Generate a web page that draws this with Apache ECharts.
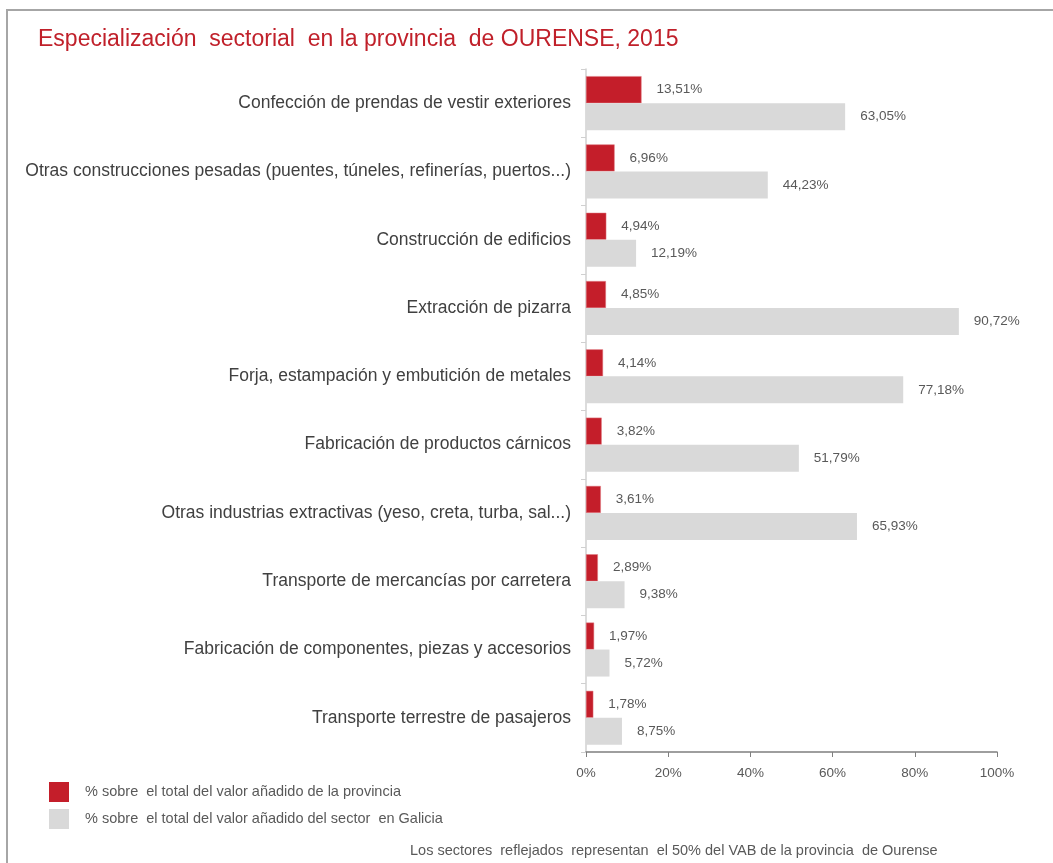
<!DOCTYPE html>
<html>
<head>
<meta charset="utf-8">
<script src="https://cdn.jsdelivr.net/npm/echarts@6/dist/echarts.min.js"></script>
<style>
  html, body { margin: 0; padding: 0; background: #fff; }
  #main { width: 1053px; height: 863px; }
</style>
</head>
<body>
<div id="main"></div>
<script>
const sectores = [
  'Confección de prendas de vestir exteriores',
  'Otras construcciones pesadas (puentes, túneles, refinerías, puertos...)',
  'Construcción de edificios',
  'Extracción de pizarra',
  'Forja, estampación y embutición de metales',
  'Fabricación de productos cárnicos',
  'Otras industrias extractivas (yeso, creta, turba, sal...)',
  'Transporte de mercancías por carretera',
  'Fabricación de componentes, piezas y accesorios',
  'Transporte terrestre de pasajeros'
]
const pctProvincia = [13.51, 6.96, 4.94, 4.85, 4.14, 3.82, 3.61, 2.89, 1.97, 1.78]
const pctGalicia = [63.05, 44.23, 12.19, 90.72, 77.18, 51.79, 65.93, 9.38, 5.72, 8.75]
const xTicks = [0, 20, 40, 60, 80, 100]

const fontFam = '"Liberation Sans", Arial, sans-serif'
const fmtPct = v => v.toFixed(2).replace('.', ',') + '%'

const chart = echarts.init(document.getElementById('main'), null, { renderer: 'canvas' })

const option = {
  backgroundColor: '#ffffff',
  animation: false,
  textStyle: { fontFamily: fontFam },
  title: [{
    text: 'Especialización  sectorial  en la provincia  de OURENSE, 2015',
    left: 33,
    top: 23,
    textStyle: { color: '#C0202A', fontSize: 23, fontWeight: 'normal', fontFamily: fontFam }
  }, {
    text: 'Los sectores  reflejados  representan  el 50% del VAB de la provincia  de Ourense',
    left: 405,
    top: 838,
    textStyle: { color: '#595959', fontSize: 14.5, fontWeight: 'normal', fontFamily: fontFam }
  }],
  legend: {
    orient: 'vertical',
    left: 44,
    top: 777,
    itemWidth: 20,
    itemHeight: 20,
    itemGap: 7,
    icon: 'rect',
    itemStyle: { borderWidth: 0 },
    textStyle: { color: '#595959', fontSize: 14.5, padding: [0, 0, 0, 11] },
    data: [
      '% sobre  el total del valor añadido de la provincia',
      '% sobre  el total del valor añadido del sector  en Galicia'
    ]
  },
  grid: { left: 586, right: 56, top: 69, bottom: 111, containLabel: false },
  xAxis: {
    type: 'value',
    min: 0,
    max: 100,
    interval: 20,
    splitLine: { show: false },
    axisLine: { show: true, lineStyle: { color: '#7f7f7f', width: 1.5 } },
    axisTick: { show: true, length: 5, lineStyle: { color: '#7f7f7f' } },
    axisLabel: {
      color: '#595959', fontSize: 13.5, margin: 14,
      formatter: v => xTicks.includes(v) ? v + '%' : ''
    }
  },
  yAxis: {
    type: 'category',
    inverse: true,
    data: sectores,
    axisLine: { show: true, lineStyle: { color: '#d0d0d0', width: 1.5 } },
    axisTick: { show: true, length: 5, lineStyle: { color: '#d0d0d0' } },
    axisLabel: { color: '#404040', fontSize: 17.5, margin: 15 }
  },
  series: [{
    name: '% sobre  el total del valor añadido de la provincia',
    type: 'bar',
    data: pctProvincia,
    barWidth: 27,
    barGap: '0%',
    itemStyle: { color: '#C41E2A', borderColor: '#e07a80', borderWidth: 0.5 },
    label: {
      show: true, position: 'right', distance: 15,
      color: '#595959', fontSize: 13.5,
      formatter: p => fmtPct(p.value)
    }
  }, {
    name: '% sobre  el total del valor añadido del sector  en Galicia',
    type: 'bar',
    data: pctGalicia,
    barWidth: 27,
    barGap: '0%',
    itemStyle: { color: '#D9D9D9' },
    label: {
      show: true, position: 'right', distance: 15,
      color: '#595959', fontSize: 13.5,
      formatter: p => fmtPct(p.value)
    }
  }],
  graphic: [{
    type: 'line',
    shape: { x1: 6, y1: 10, x2: 1053, y2: 10 },
    style: { stroke: '#a6a6a6', lineWidth: 2 }
  }, {
    type: 'line',
    shape: { x1: 7, y1: 10, x2: 7, y2: 863 },
    style: { stroke: '#a6a6a6', lineWidth: 2 }
  }]
}

chart.setOption(option)
</script>
</body>
</html>
